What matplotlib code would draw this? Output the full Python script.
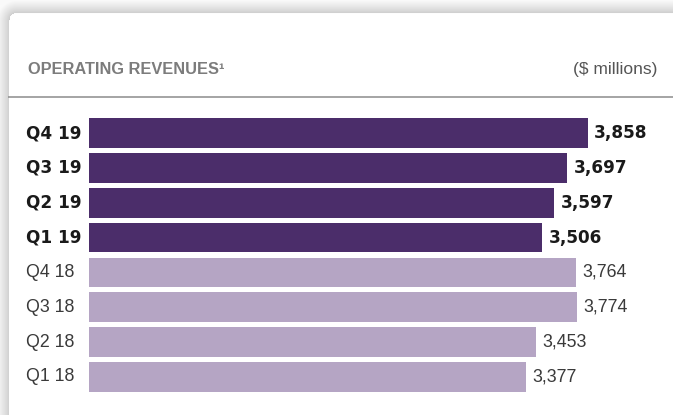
import numpy as np
import matplotlib
matplotlib.use("Agg")
import matplotlib.pyplot as plt
from matplotlib import transforms

# ---- data ----
categories = ["Q4 19", "Q3 19", "Q2 19", "Q1 19", "Q4 18", "Q3 18", "Q2 18", "Q1 18"]
revenues = [3858, 3697, 3597, 3506, 3764, 3774, 3453, 3377]
highlight = [True, True, True, True, False, False, False, False]
value_labels = ["3,858", "3,697", "3,597", "3,506", "3,764", "3,774", "3,453", "3,377"]

W, H = 673, 415
DPI = 100
fig = plt.figure(figsize=(W / DPI, H / DPI), dpi=DPI, facecolor="white")

# ---- background card with soft shadow ----
bg = fig.add_axes([0, 0, 1, 1], zorder=-10)
bg.set_axis_off()
yy, xx = np.mgrid[0:H, 0:W].astype(float)
cx0, cy0, r = 9.0, 13.5, 7.0
dx = np.clip(cx0 + r - xx, 0, None)
dy = np.clip(cy0 + r - yy, 0, None)
inside_corner = (xx < cx0 + r) & (yy < cy0 + r)
dist = np.where(inside_corner, np.hypot(dx, dy) - r,
                np.maximum(cx0 - xx, cy0 - yy))
img = np.ones((H, W))
out = dist > 0
shade = 0.80 + 0.18 * np.clip(dist / 13.0, 0, 1) ** 0.8
img[out] = shade[out]
bg.imshow(img, cmap="gray", vmin=0, vmax=1, extent=[0, W, H, 0],
          aspect="auto", interpolation="bilinear")
bg.set_xlim(0, W)
bg.set_ylim(H, 0)

# header texts and separator line
fig.text(28 / W, 1 - 74 / H, "OPERATING REVENUES\u00b9", family="Liberation Sans",
         fontweight="bold", fontsize=11.8, color="#7c7c7c", va="baseline", ha="left")
fig.text(657 / W, 1 - 74 / H, "($ millions)", family="Liberation Sans",
         fontsize=12.5, color="#555555", va="baseline", ha="right")
bg.plot([8, W], [96.8, 96.8], color="#8c8c8c", lw=1.1, solid_capstyle="butt")

# ---- bar chart ----
left_px, right_px = 89, 660
top_px, bot_px = 115.6, 394.4
ax = fig.add_axes([left_px / W, 1 - bot_px / H,
                   (right_px - left_px) / W, (bot_px - top_px) / H])
ax.set_axis_off()
k = (588 - 89) / 3858.0
ax.set_xlim(0, (right_px - left_px) / k)
n = len(categories)
ypos = np.arange(n)
ax.set_ylim(n - 0.5, -0.5)

dark, light = "#4b2d6a", "#b5a5c4"
colors = [dark if h else light for h in highlight]
ax.barh(ypos, revenues, height=0.85, color=colors, edgecolor="none")

trans = transforms.blended_transform_factory(fig.transFigure, ax.transData)
for i, (cat, val, lab, h) in enumerate(zip(categories, revenues, value_labels, highlight)):
    if h:
        fkw = dict(family="DejaVu Sans", fontweight="bold", fontsize=12.2, color="#1a1a1a")
    else:
        fkw = dict(family="Liberation Sans", fontsize=12.8, color="#3a3a3a")
    ax.text(26 / W, i, cat, transform=trans, ha="left", va="center", **fkw)
    ax.annotate(lab, xy=(val, i), xytext=(4.5, 0), textcoords="offset points",
                ha="left", va="center", **fkw)

fig.savefig("out.png", dpi=DPI, facecolor="white")
